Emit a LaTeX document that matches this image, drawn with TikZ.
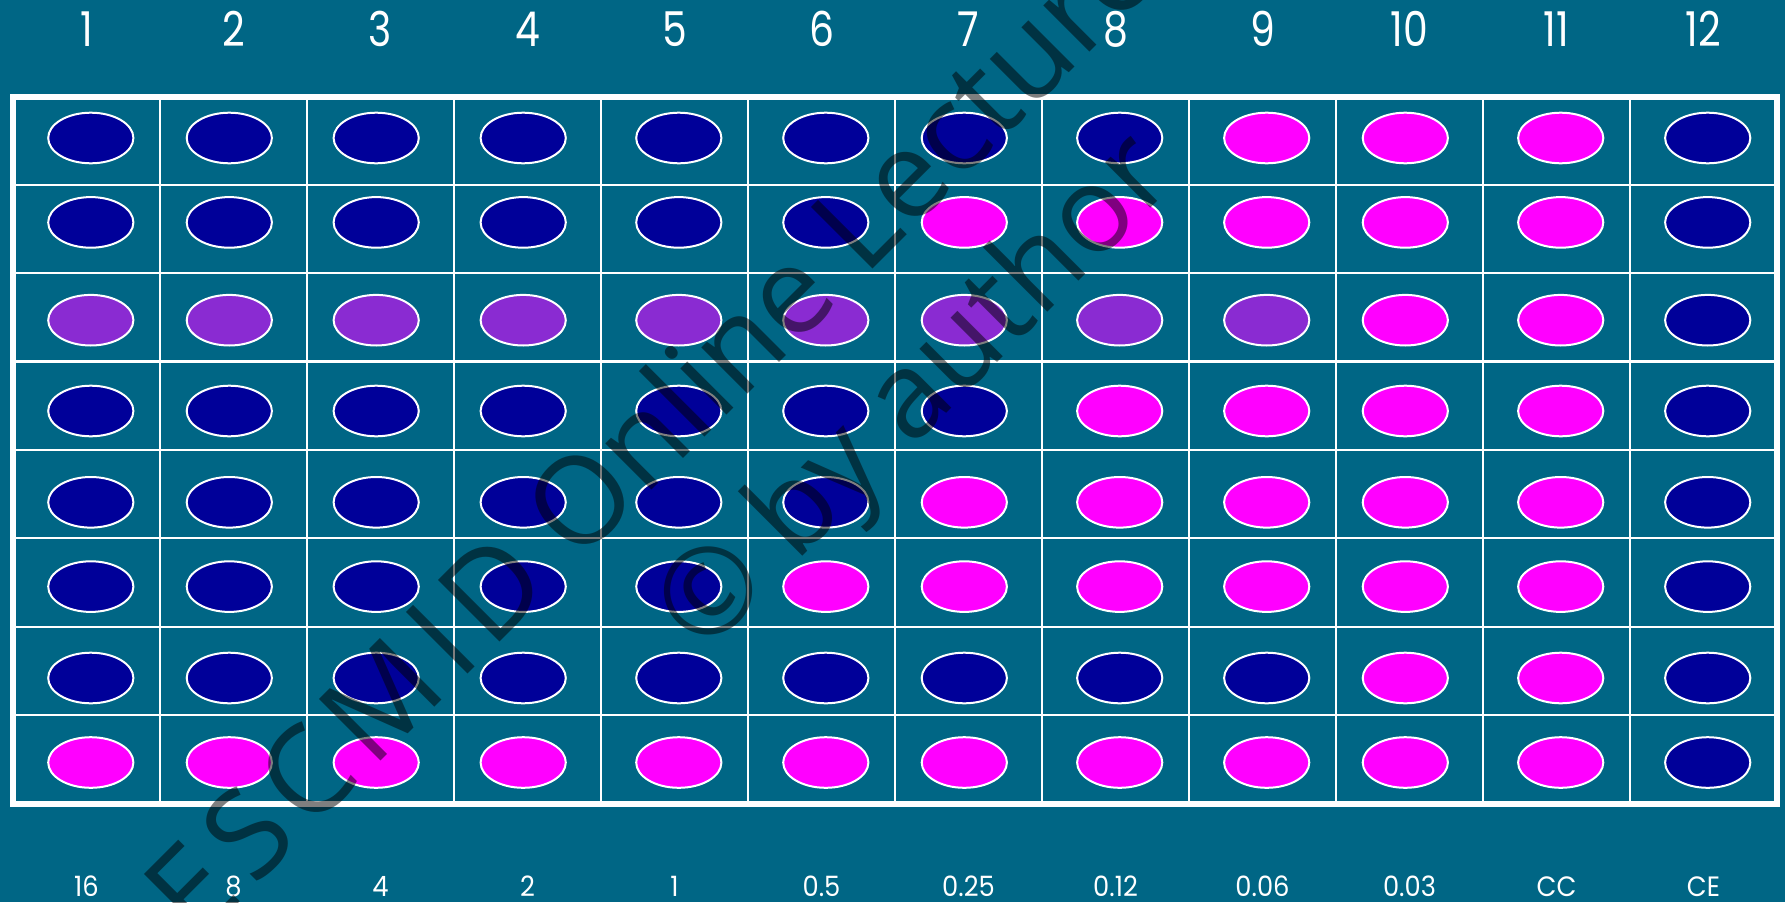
\documentclass[tikz,border=0pt]{standalone}
\usepackage{fontspec}
\setmainfont{Poppins}
\newfontfamily\wmfont{Open Sans}
\usetikzlibrary{shapes.geometric}
\definecolor{bg}{RGB}{0,102,133}
\definecolor{wellb}{RGB}{0,0,153}
\definecolor{wellm}{RGB}{255,0,255}
\definecolor{wellp}{RGB}{138,43,210}
\begin{document}
\begin{tikzpicture}[x=1pt,y=-1pt,
  well/.style={ellipse, draw=white, line width=2pt, minimum width=85.2pt, minimum height=50.6pt, inner sep=0pt},
  toplab/.style={text=white, font=\fontsize{48}{48}\selectfont, anchor=base, inner sep=0pt, xscale=0.82},
  botlab/.style={text=white, font=\fontsize{28}{28}\selectfont, anchor=base, inner sep=0pt, xscale=0.92},
  grid/.style={draw=white, line width=2.2pt},
  frame/.style={draw=white, line width=6pt},
  wmark/.style={text=black, text opacity=0.5, rotate=45, anchor=base, inner sep=0pt}
]
\fill[bg] (0,0) rectangle (1785,902);
\useasboundingbox (0,0) rectangle (1785,902);
% grid
\foreach \k in {1,...,11}{
  \draw[grid] ({13+147*\k},97) -- ({13+147*\k},803.5);
}
\foreach \yy in {185,273,361.5,449.8,537.7,627,715.2}{
  \draw[grid] (13,\yy) -- (1777,\yy);
}
\draw[frame] (13,97) rectangle (1777,803.5);
% wells
\def\colx{{90.8,229.3,376.2,523.2,678.8,825.8,964.3,1119.7,1266.7,1405.3,1560.7,1707.7}}
\foreach \r/\y/\cl in {
  1/138.0/{b,b,b,b,b,b,b,b,m,m,m,b},
  2/222.4/{b,b,b,b,b,b,m,m,m,m,m,b},
  3/320.2/{p,p,p,p,p,p,p,p,p,m,m,b},
  4/411.0/{b,b,b,b,b,b,b,m,m,m,m,b},
  5/502.3/{b,b,b,b,b,b,m,m,m,m,m,b},
  6/586.6/{b,b,b,b,b,m,m,m,m,m,m,b},
  7/678.0/{b,b,b,b,b,b,b,b,b,m,m,b},
  8/762.5/{m,m,m,m,m,m,m,m,m,m,m,b}}{
  \foreach \c [count=\i] in \cl {
    \pgfmathsetmacro\xx{\colx[\i-1]}
    \node[well, fill=well\c] (e\r-\i) at (\xx,\y) {};
  }
}
% column labels
\foreach \lab [count=\i] in {1,2,3,4,5,6,7,8,9,10,11,12}{
  \node[toplab] (t\i) at ({86.5+147*(\i-1)},46.7) {\lab};
}
\foreach \lab [count=\i] in {16,8,4,2,1,0.5,0.25,0.12,0.06,0.03,CC,CE}{
  \node[botlab] (b\i) at ({86.5+147*(\i-1)},896.5) {\lab};
}
% watermark
\node[wmark, font=\wmfont\fontsize{122}{122}\selectfont] (wm1) at (831.9,310.1)
  {E\kern12pt S\kern12pt C\kern12pt M\kern12pt I\kern12pt D Online Lecture Library};
\node[wmark, font=\wmfont\fontsize{120}{120}\selectfont] (wm2) at (940.8,418.8) {© by author};
\end{tikzpicture}
\end{document}
